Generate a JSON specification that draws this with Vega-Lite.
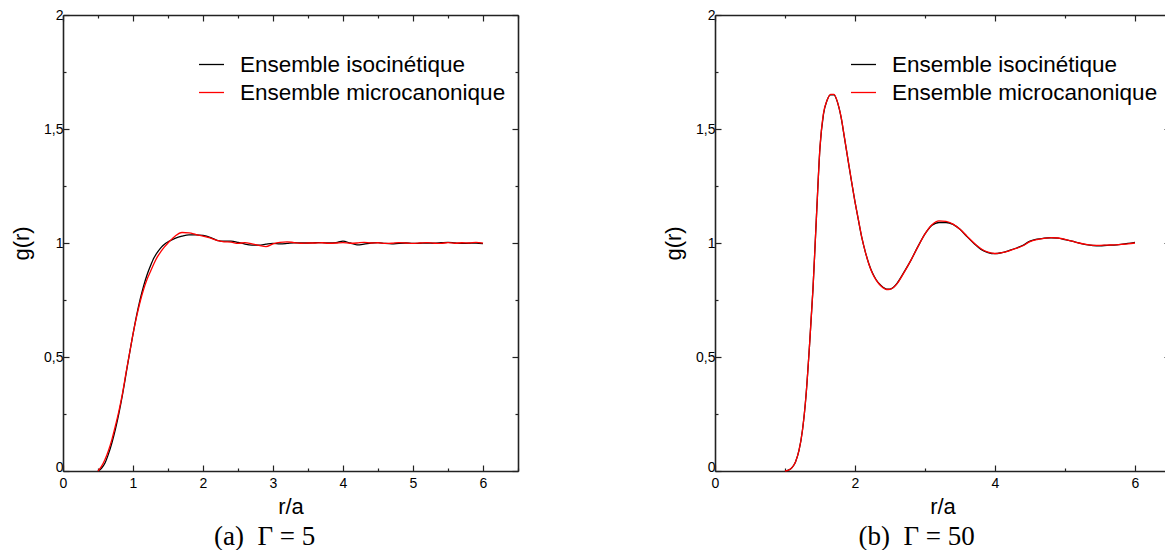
{
  "$schema": "https://vega.github.io/schema/vega-lite/v6.json",
  "padding": {"left": 10, "top": 8, "right": 0, "bottom": 0},
  "background": "white",
  "config": {
    "view": {"stroke": null},
    "font": "Liberation Sans",
    "axis": {"domainColor": "#222", "domainWidth": 1.6, "tickColor": "#222", "tickWidth": 1.2, "grid": false, "labelFont": "Liberation Sans", "labelFontSize": 14, "labelColor": "#000", "titleFont": "Liberation Sans", "titleFontSize": 22, "titleFontWeight": "normal", "titleColor": "#000", "labelFlush": false, "labelOverlap": false},
    "title": {"font": "Liberation Serif", "fontSize": 27, "fontWeight": "normal", "color": "#000"}
  },
  "datasets": {
    "g5": [
      {"r": 0.5, "iso": 0, "micro": 0},
      {"r": 0.55, "iso": 0.012, "micro": 0.02},
      {"r": 0.6, "iso": 0.035, "micro": 0.05},
      {"r": 0.65, "iso": 0.075, "micro": 0.09},
      {"r": 0.7, "iso": 0.125, "micro": 0.14},
      {"r": 0.75, "iso": 0.185, "micro": 0.2},
      {"r": 0.8, "iso": 0.255, "micro": 0.265},
      {"r": 0.85, "iso": 0.335, "micro": 0.34},
      {"r": 0.9, "iso": 0.425, "micro": 0.43},
      {"r": 0.95, "iso": 0.515, "micro": 0.515},
      {"r": 1.0, "iso": 0.6, "micro": 0.6},
      {"r": 1.05, "iso": 0.68, "micro": 0.675},
      {"r": 1.1, "iso": 0.75, "micro": 0.74},
      {"r": 1.15, "iso": 0.81, "micro": 0.795},
      {"r": 1.2, "iso": 0.86, "micro": 0.84},
      {"r": 1.25, "iso": 0.9, "micro": 0.875},
      {"r": 1.3, "iso": 0.935, "micro": 0.91},
      {"r": 1.35, "iso": 0.96, "micro": 0.94},
      {"r": 1.4, "iso": 0.98, "micro": 0.963},
      {"r": 1.45, "iso": 0.995, "micro": 0.983},
      {"r": 1.5, "iso": 1.005, "micro": 1.0},
      {"r": 1.6, "iso": 1.02, "micro": 1.03},
      {"r": 1.7, "iso": 1.03, "micro": 1.046},
      {"r": 1.8, "iso": 1.036, "micro": 1.044},
      {"r": 1.9, "iso": 1.036, "micro": 1.037},
      {"r": 2.0, "iso": 1.033, "micro": 1.03},
      {"r": 2.1, "iso": 1.025, "micro": 1.022},
      {"r": 2.2, "iso": 1.012, "micro": 1.012},
      {"r": 2.3, "iso": 1.008, "micro": 1.005},
      {"r": 2.4, "iso": 1.008, "micro": 1.004},
      {"r": 2.5, "iso": 1.003, "micro": 0.998},
      {"r": 2.6, "iso": 0.995, "micro": 1.002},
      {"r": 2.7, "iso": 0.991, "micro": 0.996},
      {"r": 2.8, "iso": 0.991, "micro": 0.99},
      {"r": 2.9, "iso": 0.995, "micro": 0.984},
      {"r": 3.0, "iso": 0.998, "micro": 0.996},
      {"r": 3.1, "iso": 0.996, "micro": 1.003},
      {"r": 3.2, "iso": 0.998, "micro": 1.005},
      {"r": 3.3, "iso": 1.001, "micro": 1.002},
      {"r": 3.4, "iso": 1.0, "micro": 0.999},
      {"r": 3.5, "iso": 1.0, "micro": 1.0},
      {"r": 3.6, "iso": 1.001, "micro": 1.0},
      {"r": 3.7, "iso": 1.002, "micro": 1.001},
      {"r": 3.8, "iso": 1.0, "micro": 0.999},
      {"r": 3.9, "iso": 1.002, "micro": 1.0},
      {"r": 4.0, "iso": 1.008, "micro": 1.002},
      {"r": 4.1, "iso": 1.0, "micro": 0.999},
      {"r": 4.2, "iso": 0.992, "micro": 1.0},
      {"r": 4.3, "iso": 0.995, "micro": 1.003},
      {"r": 4.4, "iso": 1.0, "micro": 1.0},
      {"r": 4.5, "iso": 1.002, "micro": 1.001},
      {"r": 4.6, "iso": 0.998, "micro": 0.998},
      {"r": 4.7, "iso": 0.996, "micro": 0.999},
      {"r": 4.8, "iso": 0.999, "micro": 1.002},
      {"r": 4.9, "iso": 1.0, "micro": 1.0},
      {"r": 5.0, "iso": 0.998, "micro": 0.998},
      {"r": 5.1, "iso": 0.999, "micro": 1.0},
      {"r": 5.2, "iso": 1.0, "micro": 1.002},
      {"r": 5.3, "iso": 0.999, "micro": 0.999},
      {"r": 5.4, "iso": 1.001, "micro": 0.998},
      {"r": 5.5, "iso": 1.003, "micro": 1.002},
      {"r": 5.6, "iso": 1.0, "micro": 0.999},
      {"r": 5.7, "iso": 0.998, "micro": 1.001},
      {"r": 5.8, "iso": 0.999, "micro": 1.0},
      {"r": 5.9, "iso": 1.0, "micro": 1.003},
      {"r": 6.0, "iso": 0.997, "micro": 0.999}
    ],
    "g50": [
      {"r": 1.0, "iso": 0, "micro": 0},
      {"r": 1.05, "iso": 0.004, "micro": 0.004},
      {"r": 1.1, "iso": 0.015, "micro": 0.015},
      {"r": 1.15, "iso": 0.04, "micro": 0.04},
      {"r": 1.2, "iso": 0.09, "micro": 0.09},
      {"r": 1.25, "iso": 0.18, "micro": 0.18},
      {"r": 1.3, "iso": 0.33, "micro": 0.33},
      {"r": 1.35, "iso": 0.55, "micro": 0.55},
      {"r": 1.4, "iso": 0.8, "micro": 0.8},
      {"r": 1.45, "iso": 1.12, "micro": 1.12},
      {"r": 1.5, "iso": 1.42, "micro": 1.42},
      {"r": 1.55, "iso": 1.565, "micro": 1.57},
      {"r": 1.6, "iso": 1.625, "micro": 1.625},
      {"r": 1.65, "iso": 1.65, "micro": 1.652},
      {"r": 1.7, "iso": 1.65, "micro": 1.652},
      {"r": 1.75, "iso": 1.617, "micro": 1.618},
      {"r": 1.8, "iso": 1.553, "micro": 1.555},
      {"r": 1.85, "iso": 1.46, "micro": 1.462},
      {"r": 1.9, "iso": 1.365, "micro": 1.366},
      {"r": 1.95, "iso": 1.27, "micro": 1.272},
      {"r": 2.0, "iso": 1.18, "micro": 1.18},
      {"r": 2.05, "iso": 1.098, "micro": 1.1},
      {"r": 2.1, "iso": 1.02, "micro": 1.02},
      {"r": 2.15, "iso": 0.958, "micro": 0.958},
      {"r": 2.2, "iso": 0.907, "micro": 0.906},
      {"r": 2.25, "iso": 0.868, "micro": 0.866},
      {"r": 2.3, "iso": 0.84, "micro": 0.838},
      {"r": 2.35, "iso": 0.82, "micro": 0.818},
      {"r": 2.4, "iso": 0.806, "micro": 0.804},
      {"r": 2.45, "iso": 0.798, "micro": 0.796},
      {"r": 2.5, "iso": 0.798, "micro": 0.797},
      {"r": 2.55, "iso": 0.806, "micro": 0.805},
      {"r": 2.6, "iso": 0.823, "micro": 0.821},
      {"r": 2.7, "iso": 0.872, "micro": 0.87},
      {"r": 2.8, "iso": 0.925, "micro": 0.925},
      {"r": 2.9, "iso": 0.985, "micro": 0.984},
      {"r": 3.0, "iso": 1.04, "micro": 1.04},
      {"r": 3.1, "iso": 1.078, "micro": 1.08},
      {"r": 3.2, "iso": 1.09, "micro": 1.097},
      {"r": 3.3, "iso": 1.09, "micro": 1.095},
      {"r": 3.4, "iso": 1.082, "micro": 1.083},
      {"r": 3.5, "iso": 1.06, "micro": 1.06},
      {"r": 3.6, "iso": 1.028, "micro": 1.03},
      {"r": 3.7, "iso": 0.998, "micro": 1.0},
      {"r": 3.8, "iso": 0.972, "micro": 0.975},
      {"r": 3.9, "iso": 0.958, "micro": 0.96},
      {"r": 4.0, "iso": 0.953, "micro": 0.954},
      {"r": 4.1, "iso": 0.958, "micro": 0.958},
      {"r": 4.2, "iso": 0.967, "micro": 0.966},
      {"r": 4.3, "iso": 0.977, "micro": 0.976},
      {"r": 4.4, "iso": 0.99, "micro": 0.988},
      {"r": 4.5, "iso": 1.008, "micro": 1.006},
      {"r": 4.6, "iso": 1.017, "micro": 1.015},
      {"r": 4.7, "iso": 1.021, "micro": 1.02},
      {"r": 4.8, "iso": 1.023, "micro": 1.024},
      {"r": 4.9, "iso": 1.021, "micro": 1.022},
      {"r": 5.0, "iso": 1.015, "micro": 1.016},
      {"r": 5.1, "iso": 1.008, "micro": 1.008},
      {"r": 5.2, "iso": 1.0, "micro": 1.0},
      {"r": 5.3, "iso": 0.993, "micro": 0.994},
      {"r": 5.4, "iso": 0.989, "micro": 0.99},
      {"r": 5.5, "iso": 0.988, "micro": 0.99},
      {"r": 5.6, "iso": 0.99, "micro": 0.991},
      {"r": 5.7, "iso": 0.991, "micro": 0.992},
      {"r": 5.8, "iso": 0.994, "micro": 0.994},
      {"r": 5.9, "iso": 0.998, "micro": 0.996},
      {"r": 6.0, "iso": 1.003, "micro": 1.0}
    ]
  },
  "spacing": 143,
  "resolve": {"scale": {"color": "independent"}, "legend": {"color": "independent"}},
  "hconcat": [
    {
      "data": {"name": "g5"},
      "transform": [{"fold": ["iso", "micro"], "as": ["ensemble", "g"]}],
      "width": 455,
      "height": 456,
      "title": {"text": "(a)\u2002Γ = 5", "orient": "bottom", "anchor": "middle", "frame": "bounds", "offset": 7},
      "resolve": {"axis": {"x": "independent", "y": "independent"}},
      "layer": [
        {
          "mark": {"type": "line", "strokeWidth": 1.3, "interpolate": "monotone"},
          "encoding": {
            "x": {"field": "r", "type": "quantitative", "scale": {"domain": [0, 6.5], "nice": false, "zero": false},
              "axis": {"orient": "bottom", "title": "r/a", "values": [0, 0.5, 1, 1.5, 2, 2.5, 3, 3.5, 4, 4.5, 5, 5.5, 6, 6.5],
                "labelExpr": "datum.value % 1 === 0 && datum.value < 6.5 ? format(datum.value, '~g') : ''",
                "tickSize": {"condition": {"test": "datum.value % 1 !== 0", "value": -3}, "value": -6},
                "labelPadding": 11, "titlePadding": 3}},
            "y": {"field": "g", "type": "quantitative", "scale": {"domain": [0, 2], "nice": false},
              "axis": {"orient": "left", "title": "g(r)", "values": [0, 0.25, 0.5, 0.75, 1, 1.25, 1.5, 1.75, 2],
                "labelExpr": "datum.value % 0.5 === 0 ? replace(format(datum.value, '~g'), '.', ',') : ''",
                "labelOffset": {"condition": {"test": "datum.value === 0", "value": -4}, "value": 0},
                "tickSize": {"condition": {"test": "datum.value % 0.5 !== 0", "value": -3}, "value": -6},
                "labelPadding": 6, "titlePadding": 10}},
            "color": {"field": "ensemble", "type": "nominal",
              "scale": {"domain": ["iso", "micro"], "range": ["#000000", "#ff0000"]},
              "legend": {"orient": "none", "legendX": 135, "legendY": 36, "title": null,
                "labelExpr": "datum.value === 'iso' ? 'Ensemble isocinétique' : 'Ensemble microcanonique'",
                "labelFont": "Liberation Sans", "labelFontSize": 22.5, "labelColor": "#000", "symbolType": "stroke",
                "symbolSize": 625, "symbolStrokeWidth": 1.3, "labelOffset": 15, "rowPadding": 3, "labelLimit": 400, "padding": 0}}
          }
        },
        {
          "mark": {"type": "point", "opacity": 0},
          "encoding": {
            "x": {"field": "r", "type": "quantitative",
              "axis": {"orient": "top", "title": null, "labels": false, "values": [0, 0.5, 1, 1.5, 2, 2.5, 3, 3.5, 4, 4.5, 5, 5.5, 6, 6.5],
                "tickSize": {"condition": {"test": "datum.value % 1 !== 0", "value": -3}, "value": -6}}},
            "y": {"field": "g", "type": "quantitative",
              "axis": {"orient": "right", "title": null, "labels": false, "values": [0, 0.25, 0.5, 0.75, 1, 1.25, 1.5, 1.75, 2],
                "tickSize": {"condition": {"test": "datum.value % 0.5 !== 0", "value": -3}, "value": -6}}}
          }
        }
      ]
    },
    {
      "data": {"name": "g50"},
      "transform": [{"fold": ["iso", "micro"], "as": ["ensemble", "g"]}],
      "width": 455,
      "height": 456,
      "title": {"text": "(b)\u2002Γ = 50", "orient": "bottom", "anchor": "middle", "frame": "bounds", "offset": 7},
      "resolve": {"axis": {"x": "independent", "y": "independent"}},
      "layer": [
        {
          "mark": {"type": "line", "strokeWidth": 1.3, "interpolate": "monotone"},
          "encoding": {
            "x": {"field": "r", "type": "quantitative", "scale": {"domain": [0, 6.5], "nice": false, "zero": false},
              "axis": {"orient": "bottom", "title": "r/a", "values": [0, 1, 2, 3, 4, 5, 6],
                "labelExpr": "datum.value % 2 === 0 ? format(datum.value, '~g') : ''",
                "tickSize": {"condition": {"test": "datum.value % 2 !== 0", "value": -3}, "value": -6},
                "labelPadding": 11, "titlePadding": 3}},
            "y": {"field": "g", "type": "quantitative", "scale": {"domain": [0, 2], "nice": false},
              "axis": {"orient": "left", "title": "g(r)", "values": [0, 0.25, 0.5, 0.75, 1, 1.25, 1.5, 1.75, 2],
                "labelExpr": "datum.value % 0.5 === 0 ? replace(format(datum.value, '~g'), '.', ',') : ''",
                "labelOffset": {"condition": {"test": "datum.value === 0", "value": -4}, "value": 0},
                "tickSize": {"condition": {"test": "datum.value % 0.5 !== 0", "value": -3}, "value": -6},
                "labelPadding": 6, "titlePadding": 10}},
            "color": {"field": "ensemble", "type": "nominal",
              "scale": {"domain": ["iso", "micro"], "range": ["#000000", "#ff0000"]},
              "legend": {"orient": "none", "legendX": 135, "legendY": 36, "title": null,
                "labelExpr": "datum.value === 'iso' ? 'Ensemble isocinétique' : 'Ensemble microcanonique'",
                "labelFont": "Liberation Sans", "labelFontSize": 22.5, "labelColor": "#000", "symbolType": "stroke",
                "symbolSize": 625, "symbolStrokeWidth": 1.3, "labelOffset": 15, "rowPadding": 3, "labelLimit": 400, "padding": 0}}
          }
        },
        {
          "mark": {"type": "point", "opacity": 0},
          "encoding": {
            "x": {"field": "r", "type": "quantitative",
              "axis": {"orient": "top", "title": null, "labels": false, "values": [0, 1, 2, 3, 4, 5, 6],
                "tickSize": {"condition": {"test": "datum.value % 2 !== 0", "value": -3}, "value": -6}}},
            "y": {"field": "g", "type": "quantitative",
              "axis": {"orient": "right", "title": null, "labels": false, "values": [0, 0.25, 0.5, 0.75, 1, 1.25, 1.5, 1.75, 2],
                "tickSize": {"condition": {"test": "datum.value % 0.5 !== 0", "value": -3}, "value": -6}}}
          }
        }
      ]
    }
  ]
}
